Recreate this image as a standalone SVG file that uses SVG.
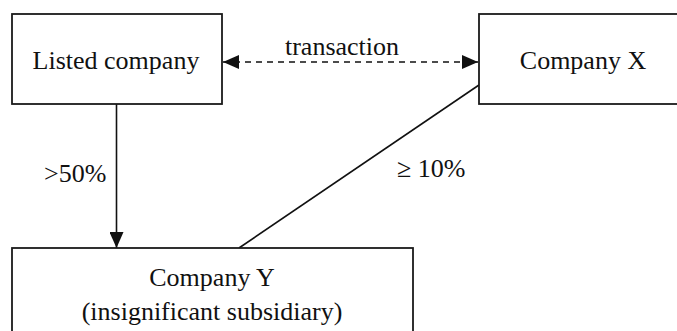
<svg xmlns="http://www.w3.org/2000/svg" width="677" height="331" viewBox="0 0 677 331">
  <style>
    .box { fill: #ffffff; stroke: #1a1a1a; stroke-width: 1.8; }
    .lbl { font-family: "Liberation Serif", "Times New Roman", serif; font-size: 26px; fill: #111111; }
    .mid { text-anchor: middle; }
    .edge { fill: none; stroke: #111111; stroke-width: 1.6; }
    .dash { stroke-dasharray: 6 5; }
  </style>
  <defs>
    <marker id="arrow" viewBox="0 0 16 14" refX="16" refY="7" markerWidth="16" markerHeight="14" markerUnits="userSpaceOnUse" orient="auto-start-reverse">
      <path d="M0,0 L16,7 L0,14 Z" fill="#111111"/>
    </marker>
  </defs>

  <rect width="677" height="331" fill="#ffffff"/>

  <g id="edges">
    <!-- two-way dashed transaction link -->
    <line class="edge dash" x1="223" y1="62" x2="478" y2="62" marker-start="url(#arrow)" marker-end="url(#arrow)"/>
    <text class="lbl mid" x="342" y="55">transaction</text>
    <!-- majority holding -->
    <line class="edge" x1="116.5" y1="104" x2="116.5" y2="248" marker-end="url(#arrow)"/>
    <text class="lbl" x="44" y="182">&gt;50%</text>
    <!-- minority holding -->
    <line class="edge" x1="479" y1="85" x2="239" y2="248"/>
    <text class="lbl" x="397" y="177">≥ 10%</text>
  </g>

  <g id="listed-company">
    <rect class="box" x="12" y="14" width="210" height="90"/>
    <text class="lbl mid" x="116" y="69">Listed company</text>
  </g>

  <g id="company-x">
    <rect class="box" x="479" y="14" width="210" height="90"/>
    <text class="lbl mid" x="583" y="69">Company X</text>
  </g>

  <g id="company-y">
    <rect class="box" x="12" y="248" width="401" height="95"/>
    <text class="lbl mid" x="212" y="286">Company Y</text>
    <text class="lbl mid" x="212" y="320">(insignificant subsidiary)</text>
  </g>
</svg>
